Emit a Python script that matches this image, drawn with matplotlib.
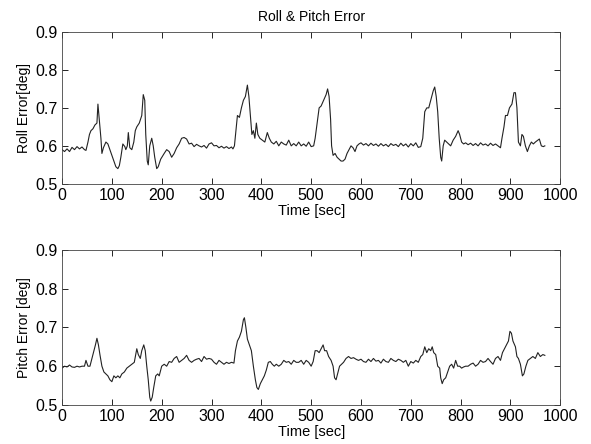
import numpy as np
import matplotlib.pyplot as plt

plt.rcParams['font.family'] = ['Liberation Sans', 'DejaVu Sans']

# roll error (time [sec], error [deg])
roll_t = [0, 5, 10, 15, 20, 25, 30, 35, 40, 45, 48, 52, 55, 58, 62, 66, 70, 72, 75, 78,
          80, 83, 88, 92, 96, 100, 104, 108, 112, 115, 118, 122, 126, 128, 131, 133, 136, 140, 144, 147,
          150, 155, 160, 163, 166, 168, 171, 173, 176, 180, 183, 186, 190, 193, 198, 205, 210, 215, 220, 225,
          230, 235, 240, 245, 250, 255, 260, 265, 270, 275, 280, 285, 290, 295, 300, 305, 310, 315, 320, 325,
          330, 335, 340, 343, 346, 349, 352, 356, 360, 364, 368, 372, 375, 378, 381, 384, 387, 390, 393, 397,
          402, 407, 412, 416, 420, 425, 430, 435, 440, 445, 450, 455, 460, 465, 470, 475, 480, 485, 490, 495,
          500, 505, 508, 512, 516, 520, 525, 530, 533, 536, 539, 541, 544, 548, 552, 556, 560, 564, 568, 572,
          576, 580, 584, 588, 592, 596, 600, 605, 610, 615, 620, 625, 630, 635, 640, 645, 650, 655, 660, 665,
          670, 675, 680, 685, 690, 695, 700, 705, 710, 715, 720, 724, 728, 732, 736, 740, 745, 748, 751, 754,
          757, 760, 762, 765, 768, 772, 776, 780, 785, 790, 795, 798, 802, 806, 810, 815, 820, 825, 830, 835,
          840, 845, 850, 855, 860, 865, 870, 875, 880, 883, 887, 890, 894, 898, 903, 907, 910, 913, 916, 920,
          923, 926, 930, 934, 938, 942, 946, 950, 955, 958, 962, 966, 969]
roll_err = [0.590, 0.585, 0.592, 0.585, 0.596, 0.590, 0.598, 0.592, 0.597, 0.590, 0.588, 0.610, 0.630, 0.640, 0.645, 0.655, 0.660, 0.710, 0.665, 0.620,
            0.580, 0.595, 0.610, 0.605, 0.590, 0.575, 0.560, 0.545, 0.540, 0.548, 0.570, 0.605, 0.598, 0.590, 0.600, 0.635, 0.595, 0.590, 0.610, 0.640,
            0.650, 0.660, 0.680, 0.735, 0.720, 0.630, 0.560, 0.550, 0.600, 0.620, 0.600, 0.570, 0.540, 0.545, 0.565, 0.580, 0.590, 0.585, 0.570, 0.580,
            0.595, 0.605, 0.620, 0.622, 0.618, 0.605, 0.607, 0.598, 0.604, 0.600, 0.597, 0.601, 0.594, 0.605, 0.608, 0.600, 0.601, 0.595, 0.599, 0.594,
            0.598, 0.593, 0.597, 0.592, 0.600, 0.640, 0.680, 0.675, 0.700, 0.720, 0.730, 0.760, 0.730, 0.680, 0.630, 0.640, 0.620, 0.660, 0.630, 0.620,
            0.615, 0.610, 0.635, 0.620, 0.610, 0.605, 0.612, 0.600, 0.610, 0.605, 0.602, 0.615, 0.600, 0.606, 0.600, 0.610, 0.600, 0.605, 0.599, 0.610,
            0.598, 0.600, 0.620, 0.660, 0.700, 0.705, 0.720, 0.735, 0.750, 0.730, 0.670, 0.600, 0.575, 0.580, 0.570, 0.565, 0.560, 0.560, 0.565, 0.580,
            0.590, 0.600, 0.595, 0.585, 0.600, 0.605, 0.608, 0.602, 0.606, 0.600, 0.607, 0.601, 0.605, 0.599, 0.606, 0.600, 0.604, 0.598, 0.606, 0.601,
            0.604, 0.598, 0.607, 0.600, 0.605, 0.597, 0.606, 0.600, 0.608, 0.596, 0.598, 0.620, 0.690, 0.700, 0.700, 0.720, 0.745, 0.755, 0.730, 0.690,
            0.620, 0.570, 0.560, 0.600, 0.615, 0.610, 0.605, 0.600, 0.615, 0.625, 0.640, 0.630, 0.610, 0.605, 0.608, 0.603, 0.607, 0.601, 0.606, 0.600,
            0.608, 0.602, 0.605, 0.600, 0.607, 0.601, 0.605, 0.600, 0.595, 0.620, 0.650, 0.680, 0.680, 0.700, 0.710, 0.740, 0.740, 0.700, 0.610, 0.600,
            0.630, 0.625, 0.600, 0.585, 0.600, 0.610, 0.605, 0.610, 0.615, 0.618, 0.600, 0.598, 0.600]

# pitch error
pitch_t = [0, 5, 10, 15, 20, 25, 30, 35, 40, 45, 48, 52, 56, 60, 64, 67, 70, 73, 76, 80,
           84, 88, 92, 96, 100, 104, 108, 112, 116, 120, 125, 130, 135, 140, 145, 150, 153, 157, 160, 164,
           167, 170, 173, 176, 178, 181, 184, 188, 192, 195, 200, 205, 210, 215, 220, 225, 230, 235, 240, 245,
           250, 255, 260, 265, 270, 275, 280, 285, 290, 295, 300, 305, 310, 315, 320, 325, 330, 335, 340, 345,
           348, 352, 356, 360, 364, 366, 369, 372, 376, 380, 384, 388, 391, 394, 398, 402, 406, 410, 414, 418,
           422, 426, 430, 435, 440, 445, 450, 455, 460, 465, 470, 475, 480, 485, 490, 495, 500, 504, 508, 512,
           516, 520, 524, 527, 531, 535, 540, 544, 547, 550, 553, 557, 561, 565, 570, 575, 580, 585, 590, 595,
           600, 605, 610, 615, 620, 625, 630, 635, 640, 645, 650, 655, 660, 665, 670, 675, 680, 685, 690, 695,
           700, 705, 710, 715, 720, 724, 728, 732, 736, 740, 743, 746, 750, 754, 758, 760, 763, 766, 770, 774,
           778, 782, 786, 790, 794, 798, 802, 806, 810, 815, 820, 825, 830, 835, 840, 845, 850, 855, 860, 865,
           870, 875, 880, 884, 888, 892, 896, 899, 902, 905, 910, 913, 916, 920, 924, 927, 931, 935, 940, 945,
           950, 955, 960, 965, 969]
pitch_err = [0.595, 0.600, 0.598, 0.603, 0.598, 0.597, 0.600, 0.598, 0.600, 0.600, 0.615, 0.600, 0.600, 0.620, 0.640, 0.655, 0.672, 0.655, 0.630, 0.600,
             0.585, 0.580, 0.575, 0.565, 0.560, 0.575, 0.570, 0.575, 0.570, 0.580, 0.585, 0.595, 0.600, 0.605, 0.610, 0.645, 0.630, 0.620, 0.640, 0.655,
             0.640, 0.600, 0.565, 0.520, 0.510, 0.520, 0.545, 0.575, 0.580, 0.575, 0.600, 0.605, 0.600, 0.612, 0.610, 0.620, 0.625, 0.610, 0.615, 0.620,
             0.628, 0.615, 0.610, 0.615, 0.618, 0.620, 0.612, 0.625, 0.618, 0.620, 0.618, 0.610, 0.605, 0.615, 0.610, 0.605, 0.610, 0.607, 0.610, 0.608,
             0.640, 0.665, 0.675, 0.690, 0.720, 0.725, 0.700, 0.670, 0.655, 0.640, 0.600, 0.565, 0.545, 0.540, 0.555, 0.565, 0.575, 0.590, 0.610, 0.612,
             0.605, 0.600, 0.605, 0.600, 0.605, 0.615, 0.610, 0.612, 0.605, 0.615, 0.610, 0.610, 0.615, 0.605, 0.615, 0.610, 0.600, 0.612, 0.640, 0.640,
             0.635, 0.645, 0.655, 0.640, 0.640, 0.625, 0.615, 0.600, 0.570, 0.565, 0.580, 0.600, 0.605, 0.610, 0.620, 0.625, 0.620, 0.622, 0.618, 0.615,
             0.618, 0.612, 0.610, 0.618, 0.612, 0.620, 0.613, 0.615, 0.608, 0.618, 0.612, 0.610, 0.620, 0.615, 0.612, 0.618, 0.615, 0.610, 0.615, 0.600,
             0.612, 0.608, 0.615, 0.610, 0.625, 0.630, 0.650, 0.635, 0.645, 0.640, 0.650, 0.635, 0.630, 0.600, 0.595, 0.570, 0.555, 0.565, 0.570, 0.585,
             0.600, 0.605, 0.595, 0.615, 0.600, 0.600, 0.595, 0.598, 0.600, 0.600, 0.605, 0.608, 0.600, 0.605, 0.615, 0.610, 0.612, 0.620, 0.612, 0.605,
             0.620, 0.625, 0.615, 0.635, 0.645, 0.655, 0.665, 0.690, 0.685, 0.665, 0.650, 0.625, 0.620, 0.605, 0.575, 0.580, 0.600, 0.615, 0.620, 0.625,
             0.620, 0.635, 0.625, 0.630, 0.628]

xticks = np.arange(0, 1001, 100)
yticks = [0.5, 0.6, 0.7, 0.8, 0.9]

fig = plt.figure(figsize=(5.91, 4.44), dpi=100)
ax1 = fig.add_axes([0.105, 0.586, 0.843, 0.342])
ax2 = fig.add_axes([0.105, 0.088, 0.843, 0.349])

for ax, t, v, ylab in [(ax1, roll_t, roll_err, "Roll Error[deg]"),
                       (ax2, pitch_t, pitch_err, "Pitch Error [deg]")]:
    ax.plot(t, v, color="#222222", lw=0.8)
    ax.set_xlim(0, 1000)
    ax.set_ylim(0.5, 0.9)
    ax.set_xticks(xticks)
    ax.set_yticks(yticks)
    ax.set_yticklabels(["0.5", "0.6", "0.7", "0.8", "0.9"])
    ax.tick_params(direction="in", top=True, right=True, labelsize=11.5, length=4, width=0.6, pad=3)
    ax.set_xlabel("Time [sec]", fontsize=10.5, labelpad=1)
    ax.set_ylabel(ylab, fontsize=10, labelpad=3)
    for s in ax.spines.values():
        s.set_linewidth(0.6)
        s.set_color("#444444")

ax1.set_title("Roll & Pitch Error", fontsize=10, pad=8)

fig.savefig("out.png", dpi=100)
